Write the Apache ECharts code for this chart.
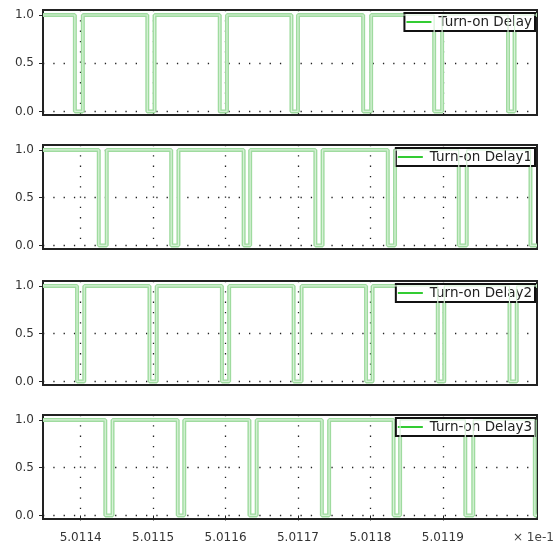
<!DOCTYPE html>
<html><head><meta charset="utf-8">
<script src="https://cdn.jsdelivr.net/npm/echarts@6/dist/echarts.min.js"></script>
<style>html,body{margin:0;padding:0;background:#fff}#c{width:560px;height:547px}</style>
</head><body><div id="c"></div>
<script>
// ---- data ----
const X_MIN = 5.011348, X_MAX = 5.01203;
const xTickValues = [5.0114, 5.0115, 5.0116, 5.0117, 5.0118, 5.0119];
const yTickValues = [0, 0.5, 1];
const seriesNames = ['Turn-on Delay', 'Turn-on Delay1', 'Turn-on Delay2', 'Turn-on Delay3'];

const delayTimes = [5.011348, 5.011392, 5.011403, 5.011492, 5.011502, 5.011592, 5.011602, 5.011691, 5.011700, 5.011790, 5.011801, 5.011888, 5.011899, 5.011990, 5.011999, 5.01203];
const delayLevels = [1, 0, 1, 0, 1, 0, 1, 0, 1, 0, 1, 0, 1, 0, 1, 1];

const delay1Times = [5.011348, 5.011425, 5.011436, 5.011525, 5.011535, 5.011625, 5.011634, 5.011724, 5.011734, 5.011824, 5.011834, 5.011922, 5.011933, 5.012021, 5.01203];
const delay1Levels = [1, 0, 1, 0, 1, 0, 1, 0, 1, 0, 1, 0, 1, 0, 0];

const delay2Times = [5.011348, 5.011395, 5.011405, 5.011495, 5.011505, 5.011595, 5.011605, 5.011694, 5.011705, 5.011794, 5.011803, 5.011893, 5.011902, 5.011992, 5.012002, 5.01203];
const delay2Levels = [1, 0, 1, 0, 1, 0, 1, 0, 1, 0, 1, 0, 1, 0, 1, 1];

const delay3Times = [5.011348, 5.011434, 5.011444, 5.011534, 5.011543, 5.011633, 5.011643, 5.011733, 5.011743, 5.011832, 5.011841, 5.011931, 5.011942, 5.012027, 5.01203];
const delay3Levels = [1, 0, 1, 0, 1, 0, 1, 0, 1, 0, 1, 0, 1, 0, 0];

const allTimes = [delayTimes, delay1Times, delay2Times, delay3Times];
const allLevels = [delayLevels, delay1Levels, delay2Levels, delay3Levels];

// ---- layout ----
const tops = [10, 145, 281, 415];
const heights = [105, 104, 104, 104];
const FONT = 'DejaVu Sans';
const dotStyle = {color: '#222', width: 1.3, type: [1.3, 9]};

const grids = [], xAxes = [], yAxes = [], series = [], legends = [];
for (let i = 0; i < 4; i++) {
  const last = i === 3;
  grids.push({left: 43, right: 23, top: tops[i], height: heights[i], show: true,
    borderColor: '#222', borderWidth: 2, backgroundColor: '#fff'});
  xAxes.push({type: 'value', gridIndex: i, min: X_MIN, max: X_MAX,
    axisLine: {show: false},
    axisTick: {show: last, customValues: xTickValues, length: 5, lineStyle: {color: '#222', width: 1}},
    axisLabel: {show: last, customValues: xTickValues, margin: 13, fontFamily: FONT, fontSize: 12, color: '#333',
      formatter: v => v.toFixed(4)},
    splitLine: {show: true, lineStyle: dotStyle}});
  yAxes.push({type: 'value', gridIndex: i, min: -0.037, max: 1.052,
    axisLine: {show: false},
    axisTick: {show: true, customValues: yTickValues, length: 4, lineStyle: {color: '#222', width: 1}},
    axisLabel: {customValues: yTickValues, margin: 9, fontFamily: FONT, fontSize: 12, color: '#333',
      formatter: v => v.toFixed(1)},
    splitLine: {show: true, lineStyle: dotStyle}});
  const data = allTimes[i].map((t, k) => [t, allLevels[i][k]]);
  series.push({type: 'line', name: 'band' + i, xAxisIndex: i, yAxisIndex: i, step: 'end', symbol: 'none',
    silent: true, z: 3, data: data, lineStyle: {color: '#9fdb9f', width: 4}});
  series.push({type: 'line', name: seriesNames[i], xAxisIndex: i, yAxisIndex: i, step: 'end', symbol: 'none',
    silent: true, z: 4, data: data, color: '#33cc33', lineStyle: {color: '#d8f2d8', width: 1.2}});
  legends.push({data: [{name: seriesNames[i], icon: 'rect', itemStyle: {color: '#33cc33'}}],
    right: 25, top: tops[i] + 3, orient: 'horizontal', selectedMode: false,
    backgroundColor: '#fff', borderColor: '#111', borderWidth: 2, borderRadius: 0,
    padding: [2, 3, 2, 2], itemWidth: 25, itemHeight: 2, itemGap: 0,
    textStyle: {fontFamily: FONT, fontSize: 13.5, color: '#222', padding: [0, 0, 0, 2]}});
}

const chart = echarts.init(document.getElementById('c'), null, {renderer: 'canvas'});
chart.setOption({
  animation: false,
  backgroundColor: '#fff',
  grid: grids, xAxis: xAxes, yAxis: yAxes, series: series, legend: legends,
  graphic: [{type: 'text', left: 513, top: 532,
    style: {text: '× 1e-1', font: '12px "DejaVu Sans"', fill: '#444'}}]
});
</script></body></html>
